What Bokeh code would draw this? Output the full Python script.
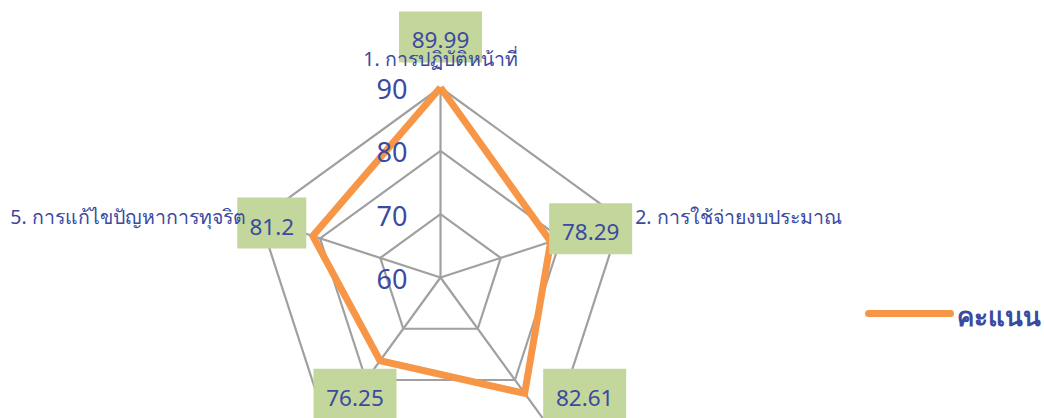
import math
from bokeh.plotting import figure
from bokeh.models import Range1d
from bokeh.core.properties import value
from bokeh.embed import file_html
from bokeh.resources import INLINE

# ---- data ----
categories = [
    "1. การปฏิบัติหน้าที่",
    "2. การใช้จ่ายงบประมาณ",
    "3. การใช้อำนาจ",
    "4. การใช้ทรัพย์สินของราชการ",
    "5. การแก้ไขปัญหาการทุจริต",
]
scores = [89.99, 78.29, 82.61, 76.25, 81.2]
score_labels = ["89.99", "78.29", "82.61", "76.25", "81.2"]
series_name = "คะแนน"
tick_values = [60, 70, 80, 90]
tick_labels = ["60", "70", "80", "90"]

# ---- layout / style ----
W, H = 1044, 418
PX0, PY0 = 0, 0                      # page offset of the figure
CX, CY_PAGE = 440, 277               # radar centre (page px)
RADIUS = 190                         # radius at axis max
RMIN, RMAX = tick_values[0], tick_values[-1]
TEXT_COL = "#3A4AA0"
GRID_COL = "#A0A0A0"
ORANGE = "#F79646"
BOX_COL = "#C3D69B"
FONT = value("Noto Sans")
# label box offsets from each point (page px: dx right, dy down)
label_offsets = [(0, -50.6), (40, -13), (60, 1), (-25, 33.6), (-41, -13)]


def py(page_y):
    return (PY0 + H) - page_y


CY = py(CY_PAGE)
N = len(categories)


def polar(v, i):
    r = (v - RMIN) / (RMAX - RMIN) * RADIUS
    a = math.pi / 2 - i * 2 * math.pi / N
    return CX + r * math.cos(a), CY + r * math.sin(a)


p = figure(width=W, height=H, output_backend="svg", toolbar_location=None,
           x_range=Range1d(PX0, PX0 + W), y_range=Range1d(0, H),
           min_border=0)
p.axis.visible = False
p.grid.visible = False
p.outline_line_color = None
p.background_fill_color = "white"
p.border_fill_color = "white"

# grid rings
for t in tick_values[1:]:
    pts = [polar(t, i) for i in range(N)] + [polar(t, 0)]
    p.line([q[0] for q in pts], [q[1] for q in pts], line_color=GRID_COL,
           line_width=2.2)
# spokes
outer = [polar(RMAX, i) for i in range(N)]
p.segment(x0=[CX] * N, y0=[CY] * N, x1=[q[0] for q in outer],
          y1=[q[1] for q in outer], line_color=GRID_COL, line_width=2.2)

# series
spts = [polar(v, i) for i, v in enumerate(scores)] + [polar(scores[0], 0)]
p.line([q[0] for q in spts], [q[1] for q in spts], line_color=ORANGE,
       line_width=7, line_join="miter")

# tick labels
p.text(x=[407] * len(tick_values),
       y=[polar(t, 0)[1] - 1.5 for t in tick_values],
       text=tick_labels, text_align="right", text_baseline="middle",
       text_font=FONT, text_font_size="27px", text_color=TEXT_COL)

# data labels
bx, by, bw, tx, ty = [], [], [], [], []
for i, v in enumerate(scores):
    x, y = polar(v, i)
    dx, dy = label_offsets[i]
    bx.append(x + dx)
    by.append(y - dy)
    bw.append(14 * len(score_labels[i]) + 13)
    tx.append(x + dx)
    ty.append(y - dy - 3.5)
p.rect(x=bx, y=by, width=bw, height=51, fill_color=BOX_COL, line_color=None)
p.text(x=tx, y=ty, text=score_labels, text_align="center",
       text_baseline="middle", text_font=FONT, text_font_size="22.5px",
       text_color=TEXT_COL)

# category labels
for i, c in enumerate(categories):
    x, y = polar(RMAX, i)
    a = math.cos(math.pi / 2 - i * 2 * math.pi / N)
    if abs(a) < 0.1:
        lx, ly, al = x, y + 29, "center"
    elif a > 0:
        lx, ly, al = x + 14, y + 2, "left"
    else:
        lx, ly, al = x - 14, y + 2, "right"
    if 0 < ly < H:
        p.text(x=[lx], y=[ly], text=[c], text_align=al,
               text_baseline="middle", text_font=FONT,
               text_font_size="19.5px", text_color=TEXT_COL)

# legend
p.line([868, 950], [py(313), py(313)], line_color=ORANGE, line_width=7,
       line_cap="round")
p.text(x=[956], y=[py(315)], text=[series_name], text_align="left",
       text_baseline="middle", text_font=FONT, text_font_size="26px",
       text_font_style="bold", text_color=TEXT_COL)

open("out.html", "w").write(file_html(p, INLINE))
